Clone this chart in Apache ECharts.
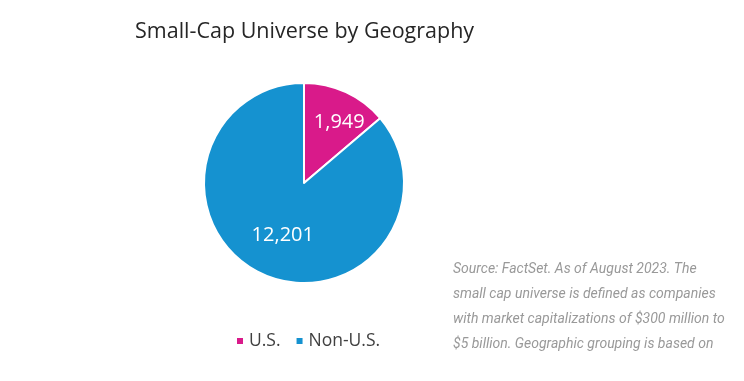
<!DOCTYPE html>
<html><head><meta charset="utf-8">
<script src="https://cdn.jsdelivr.net/npm/echarts@6/dist/echarts.min.js"></script>
<style>html,body{margin:0;padding:0;background:#fff}#c{width:744px;height:381px}</style>
</head><body><div id="c"></div>
<script>
const categories = ["U.S.", "Non-U.S."];
const values = [1949, 12201];
const colors = ["#D91A8A", "#1592D0"];
const sourceLines = [
  "Source: FactSet. As of August 2023. The",
  "small cap universe is defined as companies",
  "with market capitalizations of $300 million to",
  "$5 billion. Geographic grouping is based on"
];
const labelOffsets = [[13, -13], [1, 4]];

const chart = echarts.init(document.getElementById('c'), null, {renderer: 'canvas'});
chart.setOption({
  animation: false,
  title: [{
    text: "Small-Cap Universe by Geography",
    left: 130, top: 16,
    textStyle: {fontFamily: "Open Sans", fontSize: 21.5, fontWeight: 'normal', color: '#262626'}
  }, {
    text: sourceLines.join("\n"),
    left: 448, top: 252,
    textStyle: {fontFamily: "Roboto", fontStyle: 'italic', fontSize: 14, fontWeight: 'normal', color: '#999999', lineHeight: 25}
  }],
  legend: {
    data: categories,
    left: 230, top: 327,
    icon: 'rect', itemWidth: 8, itemHeight: 8, itemGap: 14,
    textStyle: {fontFamily: "Open Sans", fontSize: 17.5, color: '#404040'}
  },
  series: [{
    type: 'pie',
    center: [304, 183],
    radius: [0, 100],
    startAngle: 90,
    clockwise: true,
    silent: true,
    itemStyle: {borderColor: '#fff', borderWidth: 2},
    label: {
      show: true, position: 'inside',
      fontFamily: "Open Sans", fontSize: 20, color: '#fff',
      formatter: p => p.value.toLocaleString('en-US')
    },
    labelLine: {show: false},
    data: categories.map((c, i) => ({
      name: c, value: values[i],
      itemStyle: {color: colors[i]},
      label: {offset: labelOffsets[i]}
    }))
  }]
});
</script></body></html>
